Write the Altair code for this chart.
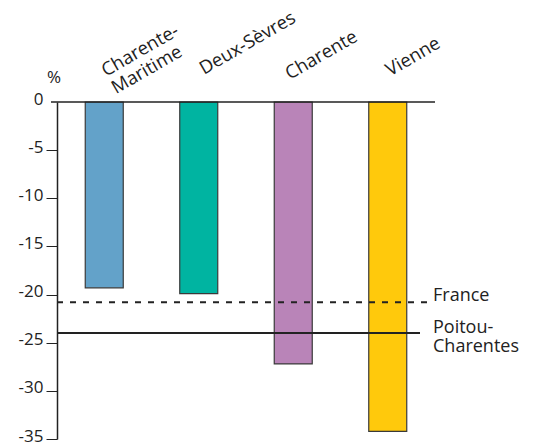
import altair as alt
import pandas as pd

regions = ["Charente-Maritime", "Deux-Sèvres", "Charente", "Vienne"]
label_lines = [["Charente-", "Maritime"], ["Deux-Sèvres"], ["Charente"], ["Vienne"]]
values = [-19.3, -19.9, -27.2, -34.2]
colors = ["#63a2c9", "#00b4a1", "#b984b8", "#ffc90c"]
label_dx = [2, 6, -4, 3]
y_ticks = [0, -5, -10, -15, -20, -25, -30, -35]
france_value = -20.8
poitou_value = -24.0

FONT = "Open Sans"
W, H = 378, 337

df = pd.DataFrame({"region": regions, "value": values})
one = pd.DataFrame({"k": [0]})

xscale = alt.Scale(domain=regions, paddingInner=0, paddingOuter=0)
yscale = alt.Scale(domain=[-35, 0], nice=False, zero=False)

bars = alt.Chart(df).mark_bar(size=38, stroke="#3a3a3a", strokeWidth=1.2).encode(
    x=alt.X("region:N", scale=xscale, axis=None, sort=regions),
    y=alt.Y("value:Q", scale=yscale,
            axis=alt.Axis(values=y_ticks, title=None, grid=False, tickSize=11,
                          tickColor={"condition": {"test": "datum.value === 0", "value": "transparent"}, "value": "#222"},
                          tickWidth=1, domainColor="#222", domainWidth=1.5,
                          labelFont=FONT, labelFontSize=17, labelColor="#222",
                          labelPadding=3, labelOffset=-3,
                          labelExpr="'' + datum.value")),
    y2=alt.Y2(datum=0),
    color=alt.Color("region:N", scale=alt.Scale(domain=regions, range=colors), legend=None),
)

zero_rule = alt.Chart(one).mark_rule(color="#222", strokeWidth=1.5).encode(
    x=alt.value(-6), x2=alt.value(W), y=alt.Y(datum=0, scale=yscale)
)

france_rule = alt.Chart(one).mark_rule(color="#222", strokeWidth=2, strokeDash=[6, 7]).encode(
    x=alt.value(0), x2=alt.value(371), y=alt.Y(datum=france_value, scale=yscale)
)
poitou_rule = alt.Chart(one).mark_rule(color="#222", strokeWidth=2).encode(
    x=alt.value(0), x2=alt.value(363), y=alt.Y(datum=poitou_value, scale=yscale)
)

france_text = alt.Chart(one).mark_text(
    text="France", align="left", baseline="alphabetic", font=FONT, fontSize=18, color="#222", dy=-1
).encode(x=alt.value(376), y=alt.Y(datum=france_value, scale=yscale))

poitou_text = alt.Chart(one).mark_text(
    text=["Poitou-", "Charentes"], align="left", baseline="alphabetic", font=FONT, fontSize=18,
    color="#222", lineHeight=19
).encode(x=alt.value(376), y=alt.Y(datum=poitou_value, scale=yscale))

pct_text = alt.Chart(one).mark_text(
    text="%", align="center", baseline="middle", font=FONT, fontSize=17, color="#222"
).encode(x=alt.value(-3), y=alt.value(-24))

label_layers = []
for reg, lines, dx in zip(regions, label_lines, label_dx):
    label_layers.append(
        alt.Chart(df).transform_filter(alt.datum.region == reg).mark_text(
            text=lines, align="left", baseline="alphabetic", angle=330, font=FONT,
            fontSize=18.5, color="#222", lineHeight=20, dx=dx
        ).encode(x=alt.X("region:N", scale=xscale, axis=None, sort=regions), y=alt.value(-24))
    )

chart = alt.layer(
    bars, zero_rule, france_rule, poitou_rule, france_text, poitou_text, pct_text, *label_layers
).properties(
    width=W, height=H,
    autosize=alt.AutoSizeParams(type="none"),
    padding={"left": 49, "top": 94, "right": 90, "bottom": 3},
).configure(background="white").configure_view(stroke=None)

chart.save("out.html", embed_options={"renderer": "svg", "actions": False})
